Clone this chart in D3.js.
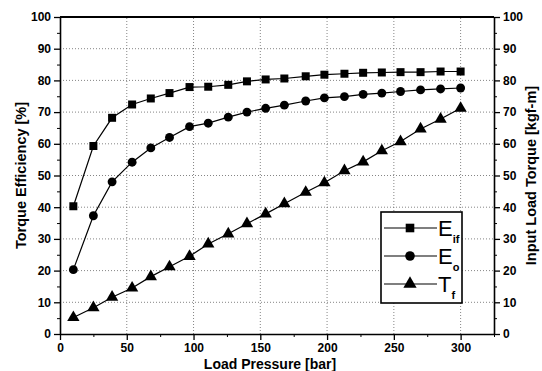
<!DOCTYPE html>
<html>
<head>
<meta charset="utf-8">
<script src="https://cdn.jsdelivr.net/npm/d3@7"></script>
<style>
  body { margin: 0; background: #fff; }
  svg { font-family: "Liberation Sans", Arial, sans-serif; font-weight: bold; }
  .grid line { stroke: #666; stroke-width: 0.8; stroke-dasharray: 1,2; }
</style>
</head>
<body>
<svg width="542" height="371"></svg>
<script>
// load pressure (bar)
var pressure = [10, 25, 39, 54, 68, 82, 97, 111, 126, 140, 154, 168, 184, 198, 213, 227, 241, 255, 270, 285, 300];
// torque efficiency E_if (%)
var eIf = [40.3, 59.3, 68.2, 72.4, 74.3, 76.0, 77.9, 78.0, 78.6, 79.7, 80.3, 80.6, 81.3, 81.8, 82.1, 82.4, 82.5, 82.6, 82.6, 82.8, 82.8];
// torque efficiency E_o (%)
var eO = [20.3, 37.3, 48.0, 54.2, 58.7, 62.0, 65.4, 66.5, 68.4, 70.0, 71.2, 72.2, 73.5, 74.5, 74.9, 75.6, 76.0, 76.5, 77.0, 77.3, 77.6];
// input load torque T_f (kgf-m)
var tF = [5.2, 8.3, 11.6, 14.5, 18.1, 21.2, 24.5, 28.4, 31.6, 34.8, 37.9, 41.1, 44.7, 47.7, 51.5, 54.3, 57.8, 60.7, 64.7, 67.8, 71.2];

var xTicks = [0, 50, 100, 150, 200, 250, 300];
var yTicks = [0, 10, 20, 30, 40, 50, 60, 70, 80, 90, 100];

var margin = { left: 60, top: 17, right: 48, bottom: 37 };
var width = 542, height = 371;
var x0 = margin.left, x1 = width - margin.right;
var y0 = height - margin.bottom, y1 = margin.top;

var xScale = d3.scaleLinear().domain([0, 325]).range([x0, x1]);
var yScale = d3.scaleLinear().domain([0, 100]).range([y0, y1]);
var y2Scale = d3.scaleLinear().domain([0, 100]).range([y0, y1]);

var svg = d3.select("svg");

// grid
var grid = svg.append("g").attr("class", "grid");
grid.selectAll(".gx").data(xTicks.filter(function(d) { return d > 0; }))
  .enter().append("line")
  .attr("x1", function(d) { return xScale(d); }).attr("x2", function(d) { return xScale(d); })
  .attr("y1", y0).attr("y2", y1);
grid.selectAll(".gy").data(yTicks.filter(function(d) { return d > 0 && d < 100; }))
  .enter().append("line")
  .attr("x1", x0).attr("x2", x1)
  .attr("y1", function(d) { return yScale(d); }).attr("y2", function(d) { return yScale(d); });

// minor ticks
function minor(axis) { return axis.tickFormat("").tickSize(3); }
svg.append("g").attr("transform", "translate(0," + y0 + ")")
  .call(minor(d3.axisBottom(xScale).tickValues(d3.range(25, 326, 50))));
svg.append("g").attr("transform", "translate(" + x0 + ",0)")
  .call(minor(d3.axisLeft(yScale).tickValues(d3.range(5, 100, 10))));
svg.append("g").attr("transform", "translate(" + x1 + ",0)")
  .call(minor(d3.axisRight(y2Scale).tickValues(d3.range(5, 100, 10))));

// major axes
var xAxis = svg.append("g").attr("transform", "translate(0," + y0 + ")")
  .call(d3.axisBottom(xScale).tickValues(xTicks).tickSize(6).tickSizeOuter(0).tickPadding(3));
var yAxis = svg.append("g").attr("transform", "translate(" + x0 + ",0)")
  .call(d3.axisLeft(yScale).tickValues(yTicks).tickSize(6).tickSizeOuter(0).tickPadding(3));
var y2Axis = svg.append("g").attr("transform", "translate(" + x1 + ",0)")
  .call(d3.axisRight(y2Scale).tickValues(yTicks).tickSize(6).tickSizeOuter(0).tickPadding(3));

[xAxis, yAxis, y2Axis].forEach(function(g) {
  g.selectAll("path").attr("stroke", "#000").attr("stroke-width", 1.6);
  g.selectAll("line").attr("stroke", "#000").attr("stroke-width", 1.3);
  g.selectAll("text").attr("font-size", 12).attr("font-weight", "bold").attr("fill", "#000")
    .attr("font-family", "Liberation Sans, Arial, sans-serif");
});

// top border
svg.append("line").attr("x1", x0).attr("x2", x1).attr("y1", y1).attr("y2", y1)
  .attr("stroke", "#000").attr("stroke-width", 1.8);

// series
var series = [
  { name: "E", sub: "if", values: eIf, scale: yScale, shape: d3.symbolSquare, size: 64 },
  { name: "E", sub: "o", values: eO, scale: yScale, shape: d3.symbolCircle, size: 62 },
  { name: "T", sub: "f", values: tF, scale: y2Scale, shape: d3.symbolTriangle, size: 66 }
];

series.forEach(function(s) {
  var line = d3.line()
    .x(function(d, i) { return xScale(pressure[i]); })
    .y(function(d) { return s.scale(d); });
  svg.append("path").datum(s.values)
    .attr("d", line).attr("fill", "none").attr("stroke", "#000").attr("stroke-width", 1.2);
  svg.selectAll(null).data(s.values).enter().append("path")
    .attr("d", d3.symbol().type(s.shape).size(s.size))
    .attr("transform", function(d, i) { return "translate(" + xScale(pressure[i]) + "," + s.scale(d) + ")"; })
    .attr("fill", "#000");
});

// axis titles
svg.append("text").attr("x", 270).attr("y", 369).attr("text-anchor", "middle")
  .attr("font-size", 14).text("Load Pressure [bar]");
svg.append("text").attr("transform", "translate(26," + ((y0 + y1) / 2) + ") rotate(-90)")
  .attr("text-anchor", "middle").attr("font-size", 14.5).text("Torque Efficiency [%]");
svg.append("text").attr("transform", "translate(536," + ((y0 + y1) / 2) + ") rotate(-90)")
  .attr("text-anchor", "middle").attr("font-size", 14.5).text("Input Load Torque [kgf-m]");

// legend
var legend = svg.append("g").attr("transform", "translate(381,212)");
legend.append("rect").attr("width", 81).attr("height", 91)
  .attr("fill", "#fff").attr("stroke", "#000").attr("stroke-width", 1.6);
series.forEach(function(s, i) {
  var cy = 16 + i * 28;
  legend.append("line").attr("x1", 3).attr("x2", 56).attr("y1", cy).attr("y2", cy)
    .attr("stroke", "#000").attr("stroke-width", 1.2);
  legend.append("path").attr("d", d3.symbol().type(s.shape).size(s.size + 10))
    .attr("transform", "translate(29," + cy + ")").attr("fill", "#000");
  var t = legend.append("text").attr("x", 57).attr("y", cy + 8)
    .attr("font-size", 22).attr("font-weight", "normal").text(s.name);
  t.append("tspan").attr("font-size", 11).attr("font-weight", "bold").attr("dy", 7).text(s.sub);
});
</script>
</body>
</html>
